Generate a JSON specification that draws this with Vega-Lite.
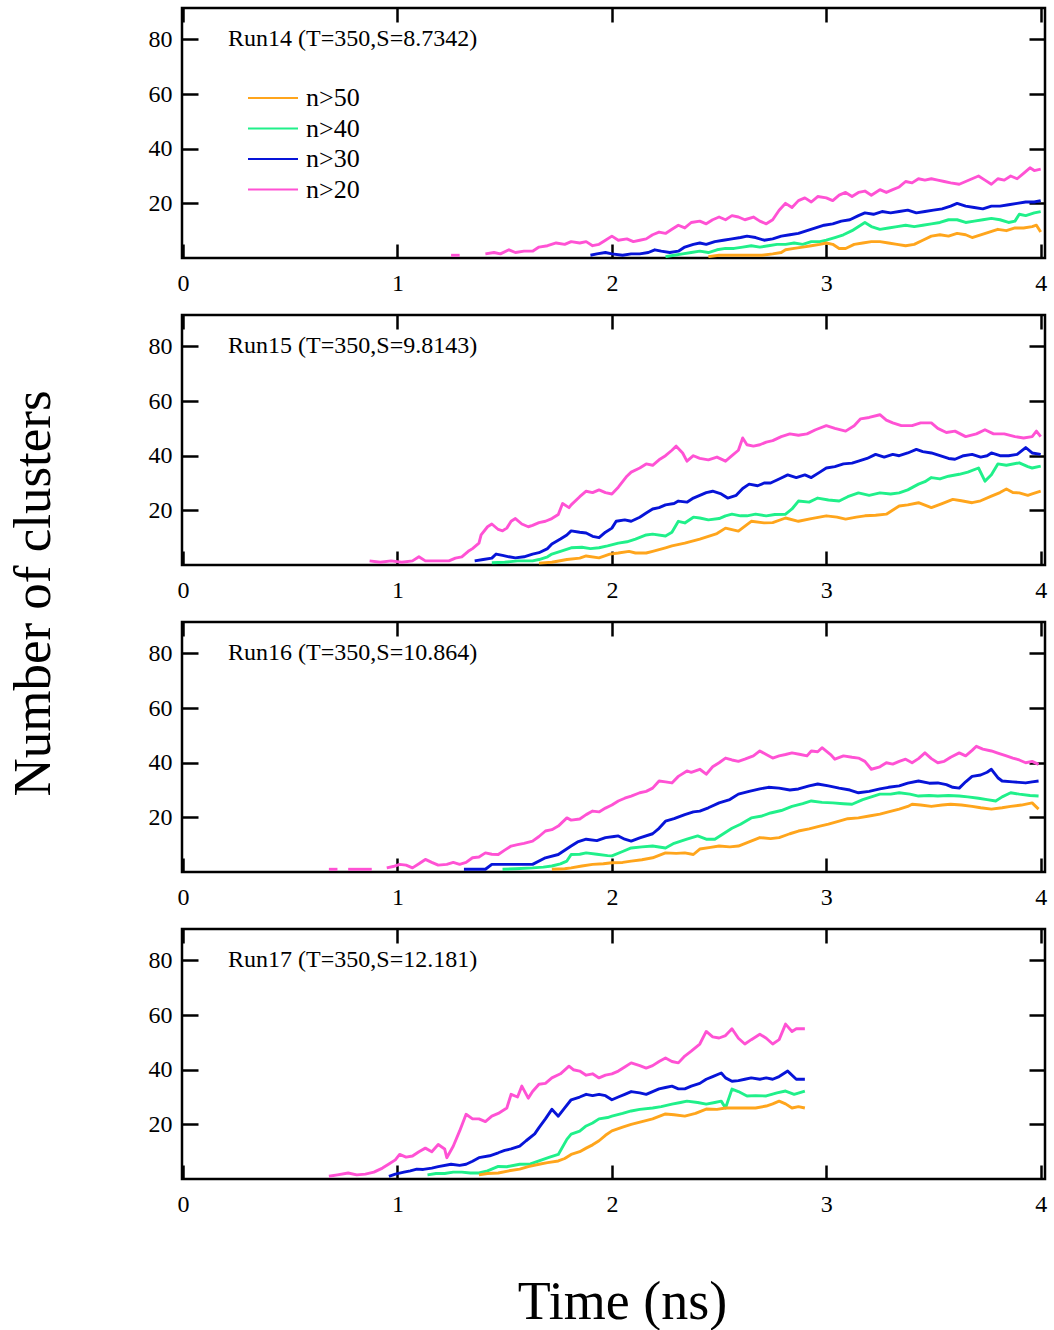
{
"$schema": "https://vega.github.io/schema/vega-lite/v6.json",
"padding": {"left": 5, "top": 5, "right": 4, "bottom": 0},
"autosize": {"type": "pad"},
"bounds": "flush",
"spacing": 57,
"datasets": {
"series": [
{"run":"Run14","n":"n>20","g":"a","t":1.25,"c":1},{"run":"Run14","n":"n>20","g":"a","t":1.29,"c":1},
{"run":"Run14","n":"n>20","t":1.41,"c":1.5},{"run":"Run14","n":"n>20","t":1.45,"c":2},{"run":"Run14","n":"n>20","t":1.48,"c":1.5},{"run":"Run14","n":"n>20","t":1.52,"c":3},{"run":"Run14","n":"n>20","t":1.55,"c":2},{"run":"Run14","n":"n>20","t":1.59,"c":2.5},{"run":"Run14","n":"n>20","t":1.63,"c":2.5},{"run":"Run14","n":"n>20","t":1.66,"c":4},{"run":"Run14","n":"n>20","t":1.70,"c":4.5},{"run":"Run14","n":"n>20","t":1.74,"c":5.5},{"run":"Run14","n":"n>20","t":1.78,"c":5},{"run":"Run14","n":"n>20","t":1.81,"c":6},{"run":"Run14","n":"n>20","t":1.85,"c":5.5},{"run":"Run14","n":"n>20","t":1.88,"c":6},{"run":"Run14","n":"n>20","t":1.91,"c":4.5},{"run":"Run14","n":"n>20","t":1.94,"c":5},{"run":"Run14","n":"n>20","t":1.97,"c":6.5},{"run":"Run14","n":"n>20","t":2.00,"c":8},{"run":"Run14","n":"n>20","t":2.03,"c":6.5},{"run":"Run14","n":"n>20","t":2.07,"c":7},{"run":"Run14","n":"n>20","t":2.10,"c":6},{"run":"Run14","n":"n>20","t":2.13,"c":6.5},{"run":"Run14","n":"n>20","t":2.16,"c":7},{"run":"Run14","n":"n>20","t":2.19,"c":8.5},{"run":"Run14","n":"n>20","t":2.22,"c":9.5},{"run":"Run14","n":"n>20","t":2.25,"c":9},{"run":"Run14","n":"n>20","t":2.28,"c":10.5},{"run":"Run14","n":"n>20","t":2.31,"c":12},{"run":"Run14","n":"n>20","t":2.34,"c":11},{"run":"Run14","n":"n>20","t":2.37,"c":13},{"run":"Run14","n":"n>20","t":2.41,"c":13.5},{"run":"Run14","n":"n>20","t":2.44,"c":12.5},{"run":"Run14","n":"n>20","t":2.47,"c":14},{"run":"Run14","n":"n>20","t":2.50,"c":15},{"run":"Run14","n":"n>20","t":2.53,"c":14},{"run":"Run14","n":"n>20","t":2.56,"c":15.5},{"run":"Run14","n":"n>20","t":2.59,"c":15},{"run":"Run14","n":"n>20","t":2.62,"c":14},{"run":"Run14","n":"n>20","t":2.66,"c":15},{"run":"Run14","n":"n>20","t":2.69,"c":13.5},{"run":"Run14","n":"n>20","t":2.72,"c":12.5},{"run":"Run14","n":"n>20","t":2.75,"c":14},{"run":"Run14","n":"n>20","t":2.78,"c":17.5},{"run":"Run14","n":"n>20","t":2.81,"c":20},{"run":"Run14","n":"n>20","t":2.84,"c":18.5},{"run":"Run14","n":"n>20","t":2.87,"c":21},{"run":"Run14","n":"n>20","t":2.90,"c":22},{"run":"Run14","n":"n>20","t":2.93,"c":20.5},{"run":"Run14","n":"n>20","t":2.96,"c":22.5},{"run":"Run14","n":"n>20","t":3.00,"c":22},{"run":"Run14","n":"n>20","t":3.03,"c":21},{"run":"Run14","n":"n>20","t":3.06,"c":23},{"run":"Run14","n":"n>20","t":3.09,"c":24},{"run":"Run14","n":"n>20","t":3.12,"c":22.5},{"run":"Run14","n":"n>20","t":3.15,"c":24},{"run":"Run14","n":"n>20","t":3.18,"c":24.5},{"run":"Run14","n":"n>20","t":3.21,"c":23},{"run":"Run14","n":"n>20","t":3.25,"c":25},{"run":"Run14","n":"n>20","t":3.28,"c":24},{"run":"Run14","n":"n>20","t":3.31,"c":25},{"run":"Run14","n":"n>20","t":3.34,"c":26},{"run":"Run14","n":"n>20","t":3.37,"c":28},{"run":"Run14","n":"n>20","t":3.40,"c":27.5},{"run":"Run14","n":"n>20","t":3.43,"c":29},{"run":"Run14","n":"n>20","t":3.46,"c":28.5},{"run":"Run14","n":"n>20","t":3.49,"c":29},{"run":"Run14","n":"n>20","t":3.52,"c":28.5},{"run":"Run14","n":"n>20","t":3.55,"c":28},{"run":"Run14","n":"n>20","t":3.58,"c":27.5},{"run":"Run14","n":"n>20","t":3.62,"c":27},{"run":"Run14","n":"n>20","t":3.65,"c":28},{"run":"Run14","n":"n>20","t":3.68,"c":29},{"run":"Run14","n":"n>20","t":3.71,"c":30},{"run":"Run14","n":"n>20","t":3.74,"c":28.5},{"run":"Run14","n":"n>20","t":3.77,"c":27},{"run":"Run14","n":"n>20","t":3.80,"c":29},{"run":"Run14","n":"n>20","t":3.83,"c":28.5},{"run":"Run14","n":"n>20","t":3.86,"c":30},{"run":"Run14","n":"n>20","t":3.89,"c":29},{"run":"Run14","n":"n>20","t":3.92,"c":31},{"run":"Run14","n":"n>20","t":3.95,"c":33},{"run":"Run14","n":"n>20","t":3.97,"c":32},{"run":"Run14","n":"n>20","t":4.00,"c":32.5},
{"run":"Run14","n":"n>30","t":1.90,"c":1},{"run":"Run14","n":"n>30","t":1.93,"c":1.5},{"run":"Run14","n":"n>30","t":1.97,"c":2},{"run":"Run14","n":"n>30","t":2.00,"c":1.5},{"run":"Run14","n":"n>30","t":2.05,"c":1},{"run":"Run14","n":"n>30","t":2.09,"c":1.5},{"run":"Run14","n":"n>30","t":2.13,"c":1.5},{"run":"Run14","n":"n>30","t":2.17,"c":2},{"run":"Run14","n":"n>30","t":2.20,"c":3},{"run":"Run14","n":"n>30","t":2.23,"c":2.5},{"run":"Run14","n":"n>30","t":2.27,"c":2},{"run":"Run14","n":"n>30","t":2.31,"c":2.5},{"run":"Run14","n":"n>30","t":2.34,"c":4},{"run":"Run14","n":"n>30","t":2.38,"c":5},{"run":"Run14","n":"n>30","t":2.41,"c":5.5},{"run":"Run14","n":"n>30","t":2.44,"c":5},{"run":"Run14","n":"n>30","t":2.48,"c":6},{"run":"Run14","n":"n>30","t":2.52,"c":6.5},{"run":"Run14","n":"n>30","t":2.56,"c":7},{"run":"Run14","n":"n>30","t":2.60,"c":7.5},{"run":"Run14","n":"n>30","t":2.63,"c":8},{"run":"Run14","n":"n>30","t":2.67,"c":7.5},{"run":"Run14","n":"n>30","t":2.71,"c":6.5},{"run":"Run14","n":"n>30","t":2.75,"c":7},{"run":"Run14","n":"n>30","t":2.79,"c":8},{"run":"Run14","n":"n>30","t":2.83,"c":8.5},{"run":"Run14","n":"n>30","t":2.87,"c":9},{"run":"Run14","n":"n>30","t":2.91,"c":10},{"run":"Run14","n":"n>30","t":2.95,"c":11},{"run":"Run14","n":"n>30","t":2.99,"c":12},{"run":"Run14","n":"n>30","t":3.03,"c":12.5},{"run":"Run14","n":"n>30","t":3.07,"c":13.5},{"run":"Run14","n":"n>30","t":3.11,"c":14},{"run":"Run14","n":"n>30","t":3.15,"c":15.5},{"run":"Run14","n":"n>30","t":3.18,"c":16.5},{"run":"Run14","n":"n>30","t":3.22,"c":16},{"run":"Run14","n":"n>30","t":3.26,"c":17},{"run":"Run14","n":"n>30","t":3.30,"c":16.5},{"run":"Run14","n":"n>30","t":3.34,"c":17},{"run":"Run14","n":"n>30","t":3.38,"c":17.5},{"run":"Run14","n":"n>30","t":3.42,"c":16.5},{"run":"Run14","n":"n>30","t":3.46,"c":17},{"run":"Run14","n":"n>30","t":3.50,"c":17.5},{"run":"Run14","n":"n>30","t":3.54,"c":18},{"run":"Run14","n":"n>30","t":3.58,"c":19},{"run":"Run14","n":"n>30","t":3.61,"c":20},{"run":"Run14","n":"n>30","t":3.65,"c":19},{"run":"Run14","n":"n>30","t":3.69,"c":18.5},{"run":"Run14","n":"n>30","t":3.73,"c":18},{"run":"Run14","n":"n>30","t":3.77,"c":19},{"run":"Run14","n":"n>30","t":3.81,"c":19},{"run":"Run14","n":"n>30","t":3.85,"c":19.5},{"run":"Run14","n":"n>30","t":3.89,"c":20},{"run":"Run14","n":"n>30","t":3.93,"c":20.5},{"run":"Run14","n":"n>30","t":3.97,"c":20.5},{"run":"Run14","n":"n>30","t":4.00,"c":21},
{"run":"Run14","n":"n>40","t":2.25,"c":0.5},{"run":"Run14","n":"n>40","t":2.29,"c":1},{"run":"Run14","n":"n>40","t":2.33,"c":1.5},{"run":"Run14","n":"n>40","t":2.37,"c":2},{"run":"Run14","n":"n>40","t":2.41,"c":2.5},{"run":"Run14","n":"n>40","t":2.45,"c":2},{"run":"Run14","n":"n>40","t":2.49,"c":3},{"run":"Run14","n":"n>40","t":2.53,"c":3.5},{"run":"Run14","n":"n>40","t":2.57,"c":3.5},{"run":"Run14","n":"n>40","t":2.61,"c":4},{"run":"Run14","n":"n>40","t":2.65,"c":4.5},{"run":"Run14","n":"n>40","t":2.69,"c":4},{"run":"Run14","n":"n>40","t":2.73,"c":4.5},{"run":"Run14","n":"n>40","t":2.77,"c":5},{"run":"Run14","n":"n>40","t":2.81,"c":5},{"run":"Run14","n":"n>40","t":2.85,"c":5.5},{"run":"Run14","n":"n>40","t":2.89,"c":5},{"run":"Run14","n":"n>40","t":2.93,"c":6},{"run":"Run14","n":"n>40","t":2.97,"c":6},{"run":"Run14","n":"n>40","t":3.00,"c":6.5},{"run":"Run14","n":"n>40","t":3.04,"c":7.5},{"run":"Run14","n":"n>40","t":3.08,"c":8.5},{"run":"Run14","n":"n>40","t":3.12,"c":10},{"run":"Run14","n":"n>40","t":3.16,"c":12},{"run":"Run14","n":"n>40","t":3.18,"c":13},{"run":"Run14","n":"n>40","t":3.21,"c":11.5},{"run":"Run14","n":"n>40","t":3.25,"c":10.5},{"run":"Run14","n":"n>40","t":3.29,"c":11},{"run":"Run14","n":"n>40","t":3.33,"c":11.5},{"run":"Run14","n":"n>40","t":3.37,"c":12},{"run":"Run14","n":"n>40","t":3.41,"c":11.5},{"run":"Run14","n":"n>40","t":3.45,"c":12},{"run":"Run14","n":"n>40","t":3.49,"c":12.5},{"run":"Run14","n":"n>40","t":3.53,"c":13},{"run":"Run14","n":"n>40","t":3.57,"c":14},{"run":"Run14","n":"n>40","t":3.61,"c":14},{"run":"Run14","n":"n>40","t":3.65,"c":13},{"run":"Run14","n":"n>40","t":3.69,"c":13.5},{"run":"Run14","n":"n>40","t":3.73,"c":14},{"run":"Run14","n":"n>40","t":3.77,"c":14.5},{"run":"Run14","n":"n>40","t":3.81,"c":14},{"run":"Run14","n":"n>40","t":3.85,"c":13},{"run":"Run14","n":"n>40","t":3.88,"c":13.5},{"run":"Run14","n":"n>40","t":3.90,"c":16},{"run":"Run14","n":"n>40","t":3.93,"c":15.5},{"run":"Run14","n":"n>40","t":3.97,"c":16.5},{"run":"Run14","n":"n>40","t":4.00,"c":17},
{"run":"Run14","n":"n>50","t":2.45,"c":0.5},{"run":"Run14","n":"n>50","t":2.50,"c":1},{"run":"Run14","n":"n>50","t":2.55,"c":1},{"run":"Run14","n":"n>50","t":2.60,"c":1},{"run":"Run14","n":"n>50","t":2.65,"c":1},{"run":"Run14","n":"n>50","t":2.70,"c":1},{"run":"Run14","n":"n>50","t":2.75,"c":1.5},{"run":"Run14","n":"n>50","t":2.79,"c":2},{"run":"Run14","n":"n>50","t":2.81,"c":3},{"run":"Run14","n":"n>50","t":2.85,"c":3.5},{"run":"Run14","n":"n>50","t":2.89,"c":4},{"run":"Run14","n":"n>50","t":2.93,"c":4.5},{"run":"Run14","n":"n>50","t":2.97,"c":5},{"run":"Run14","n":"n>50","t":3.00,"c":5.5},{"run":"Run14","n":"n>50","t":3.03,"c":5},{"run":"Run14","n":"n>50","t":3.06,"c":3.5},{"run":"Run14","n":"n>50","t":3.09,"c":3.5},{"run":"Run14","n":"n>50","t":3.13,"c":5},{"run":"Run14","n":"n>50","t":3.17,"c":5.5},{"run":"Run14","n":"n>50","t":3.21,"c":6},{"run":"Run14","n":"n>50","t":3.25,"c":6},{"run":"Run14","n":"n>50","t":3.29,"c":5.5},{"run":"Run14","n":"n>50","t":3.33,"c":5},{"run":"Run14","n":"n>50","t":3.37,"c":4.5},{"run":"Run14","n":"n>50","t":3.41,"c":5},{"run":"Run14","n":"n>50","t":3.45,"c":6.5},{"run":"Run14","n":"n>50","t":3.49,"c":8},{"run":"Run14","n":"n>50","t":3.53,"c":8.5},{"run":"Run14","n":"n>50","t":3.57,"c":8},{"run":"Run14","n":"n>50","t":3.61,"c":9},{"run":"Run14","n":"n>50","t":3.65,"c":8.5},{"run":"Run14","n":"n>50","t":3.68,"c":7.5},{"run":"Run14","n":"n>50","t":3.72,"c":8.5},{"run":"Run14","n":"n>50","t":3.76,"c":9.5},{"run":"Run14","n":"n>50","t":3.80,"c":10.5},{"run":"Run14","n":"n>50","t":3.84,"c":10},{"run":"Run14","n":"n>50","t":3.88,"c":11},{"run":"Run14","n":"n>50","t":3.92,"c":11},{"run":"Run14","n":"n>50","t":3.96,"c":11.5},{"run":"Run14","n":"n>50","t":3.98,"c":12},{"run":"Run14","n":"n>50","t":4.00,"c":9.5},

{"run":"Run15","n":"n>20","t":0.87,"c":1.5},{"run":"Run15","n":"n>20","t":0.92,"c":1},{"run":"Run15","n":"n>20","t":0.97,"c":1.5},{"run":"Run15","n":"n>20","t":1.02,"c":1},{"run":"Run15","n":"n>20","t":1.07,"c":1.5},{"run":"Run15","n":"n>20","t":1.10,"c":3},{"run":"Run15","n":"n>20","t":1.13,"c":1.5},{"run":"Run15","n":"n>20","t":1.17,"c":1.5},{"run":"Run15","n":"n>20","t":1.21,"c":1.5},{"run":"Run15","n":"n>20","t":1.24,"c":1.5},{"run":"Run15","n":"n>20","t":1.27,"c":2.5},{"run":"Run15","n":"n>20","t":1.30,"c":3},{"run":"Run15","n":"n>20","t":1.33,"c":5},{"run":"Run15","n":"n>20","t":1.35,"c":6},{"run":"Run15","n":"n>20","t":1.38,"c":8},{"run":"Run15","n":"n>20","t":1.39,"c":11},{"run":"Run15","n":"n>20","t":1.42,"c":14},{"run":"Run15","n":"n>20","t":1.44,"c":15},{"run":"Run15","n":"n>20","t":1.47,"c":13},{"run":"Run15","n":"n>20","t":1.49,"c":12.5},{"run":"Run15","n":"n>20","t":1.51,"c":13.5},{"run":"Run15","n":"n>20","t":1.53,"c":16},{"run":"Run15","n":"n>20","t":1.55,"c":17},{"run":"Run15","n":"n>20","t":1.58,"c":15},{"run":"Run15","n":"n>20","t":1.61,"c":14},{"run":"Run15","n":"n>20","t":1.63,"c":14.5},{"run":"Run15","n":"n>20","t":1.66,"c":15.5},{"run":"Run15","n":"n>20","t":1.69,"c":16},{"run":"Run15","n":"n>20","t":1.72,"c":17},{"run":"Run15","n":"n>20","t":1.75,"c":18.5},{"run":"Run15","n":"n>20","t":1.77,"c":22.5},{"run":"Run15","n":"n>20","t":1.80,"c":21},{"run":"Run15","n":"n>20","t":1.81,"c":22},{"run":"Run15","n":"n>20","t":1.85,"c":25},{"run":"Run15","n":"n>20","t":1.88,"c":27},{"run":"Run15","n":"n>20","t":1.91,"c":26.5},{"run":"Run15","n":"n>20","t":1.94,"c":27.5},{"run":"Run15","n":"n>20","t":1.97,"c":26.5},{"run":"Run15","n":"n>20","t":2.00,"c":26},{"run":"Run15","n":"n>20","t":2.03,"c":28.5},{"run":"Run15","n":"n>20","t":2.07,"c":32.5},{"run":"Run15","n":"n>20","t":2.09,"c":34},{"run":"Run15","n":"n>20","t":2.13,"c":35.5},{"run":"Run15","n":"n>20","t":2.16,"c":37},{"run":"Run15","n":"n>20","t":2.19,"c":36.5},{"run":"Run15","n":"n>20","t":2.22,"c":38.5},{"run":"Run15","n":"n>20","t":2.25,"c":40},{"run":"Run15","n":"n>20","t":2.28,"c":42},{"run":"Run15","n":"n>20","t":2.30,"c":43.5},{"run":"Run15","n":"n>20","t":2.33,"c":41},{"run":"Run15","n":"n>20","t":2.35,"c":38},{"run":"Run15","n":"n>20","t":2.38,"c":40},{"run":"Run15","n":"n>20","t":2.41,"c":39},{"run":"Run15","n":"n>20","t":2.45,"c":38.5},{"run":"Run15","n":"n>20","t":2.49,"c":39.5},{"run":"Run15","n":"n>20","t":2.53,"c":38},{"run":"Run15","n":"n>20","t":2.56,"c":40},{"run":"Run15","n":"n>20","t":2.59,"c":42},{"run":"Run15","n":"n>20","t":2.61,"c":46.5},{"run":"Run15","n":"n>20","t":2.63,"c":44},{"run":"Run15","n":"n>20","t":2.66,"c":43.5},{"run":"Run15","n":"n>20","t":2.69,"c":44},{"run":"Run15","n":"n>20","t":2.72,"c":45},{"run":"Run15","n":"n>20","t":2.75,"c":45.5},{"run":"Run15","n":"n>20","t":2.79,"c":47},{"run":"Run15","n":"n>20","t":2.83,"c":48},{"run":"Run15","n":"n>20","t":2.87,"c":47.5},{"run":"Run15","n":"n>20","t":2.91,"c":48},{"run":"Run15","n":"n>20","t":2.95,"c":49.5},{"run":"Run15","n":"n>20","t":3.00,"c":51},{"run":"Run15","n":"n>20","t":3.04,"c":50},{"run":"Run15","n":"n>20","t":3.09,"c":49},{"run":"Run15","n":"n>20","t":3.13,"c":51},{"run":"Run15","n":"n>20","t":3.16,"c":53.5},{"run":"Run15","n":"n>20","t":3.20,"c":54},{"run":"Run15","n":"n>20","t":3.25,"c":55},{"run":"Run15","n":"n>20","t":3.28,"c":53},{"run":"Run15","n":"n>20","t":3.31,"c":52},{"run":"Run15","n":"n>20","t":3.35,"c":51},{"run":"Run15","n":"n>20","t":3.40,"c":51},{"run":"Run15","n":"n>20","t":3.44,"c":52},{"run":"Run15","n":"n>20","t":3.49,"c":52},{"run":"Run15","n":"n>20","t":3.52,"c":50},{"run":"Run15","n":"n>20","t":3.56,"c":48.5},{"run":"Run15","n":"n>20","t":3.60,"c":49},{"run":"Run15","n":"n>20","t":3.65,"c":47},{"run":"Run15","n":"n>20","t":3.70,"c":48},{"run":"Run15","n":"n>20","t":3.74,"c":49.5},{"run":"Run15","n":"n>20","t":3.78,"c":48},{"run":"Run15","n":"n>20","t":3.83,"c":48},{"run":"Run15","n":"n>20","t":3.88,"c":47},{"run":"Run15","n":"n>20","t":3.92,"c":46.5},{"run":"Run15","n":"n>20","t":3.96,"c":47},{"run":"Run15","n":"n>20","t":3.98,"c":49},{"run":"Run15","n":"n>20","t":4.00,"c":47},
{"run":"Run15","n":"n>30","t":1.36,"c":1.5},{"run":"Run15","n":"n>30","t":1.40,"c":2},{"run":"Run15","n":"n>30","t":1.44,"c":2.5},{"run":"Run15","n":"n>30","t":1.46,"c":4},{"run":"Run15","n":"n>30","t":1.49,"c":3.5},{"run":"Run15","n":"n>30","t":1.52,"c":3},{"run":"Run15","n":"n>30","t":1.55,"c":2.6},{"run":"Run15","n":"n>30","t":1.59,"c":3},{"run":"Run15","n":"n>30","t":1.63,"c":4},{"run":"Run15","n":"n>30","t":1.66,"c":4.5},{"run":"Run15","n":"n>30","t":1.70,"c":6},{"run":"Run15","n":"n>30","t":1.72,"c":7.7},{"run":"Run15","n":"n>30","t":1.76,"c":9.5},{"run":"Run15","n":"n>30","t":1.79,"c":11},{"run":"Run15","n":"n>30","t":1.81,"c":12.5},{"run":"Run15","n":"n>30","t":1.85,"c":12},{"run":"Run15","n":"n>30","t":1.88,"c":11.7},{"run":"Run15","n":"n>30","t":1.91,"c":10.5},{"run":"Run15","n":"n>30","t":1.94,"c":10},{"run":"Run15","n":"n>30","t":1.97,"c":12},{"run":"Run15","n":"n>30","t":2.00,"c":13.5},{"run":"Run15","n":"n>30","t":2.02,"c":16},{"run":"Run15","n":"n>30","t":2.06,"c":16.5},{"run":"Run15","n":"n>30","t":2.09,"c":16},{"run":"Run15","n":"n>30","t":2.13,"c":17.5},{"run":"Run15","n":"n>30","t":2.16,"c":19},{"run":"Run15","n":"n>30","t":2.19,"c":20.5},{"run":"Run15","n":"n>30","t":2.22,"c":21},{"run":"Run15","n":"n>30","t":2.25,"c":22},{"run":"Run15","n":"n>30","t":2.29,"c":22.5},{"run":"Run15","n":"n>30","t":2.31,"c":23.4},{"run":"Run15","n":"n>30","t":2.35,"c":23},{"run":"Run15","n":"n>30","t":2.38,"c":24.5},{"run":"Run15","n":"n>30","t":2.41,"c":25.5},{"run":"Run15","n":"n>30","t":2.44,"c":26.5},{"run":"Run15","n":"n>30","t":2.47,"c":27},{"run":"Run15","n":"n>30","t":2.51,"c":26},{"run":"Run15","n":"n>30","t":2.54,"c":24.5},{"run":"Run15","n":"n>30","t":2.58,"c":25.5},{"run":"Run15","n":"n>30","t":2.61,"c":28},{"run":"Run15","n":"n>30","t":2.64,"c":29.6},{"run":"Run15","n":"n>30","t":2.68,"c":29},{"run":"Run15","n":"n>30","t":2.71,"c":30},{"run":"Run15","n":"n>30","t":2.74,"c":30},{"run":"Run15","n":"n>30","t":2.78,"c":31.5},{"run":"Run15","n":"n>30","t":2.82,"c":33},{"run":"Run15","n":"n>30","t":2.86,"c":32},{"run":"Run15","n":"n>30","t":2.90,"c":33},{"run":"Run15","n":"n>30","t":2.93,"c":32},{"run":"Run15","n":"n>30","t":2.97,"c":34},{"run":"Run15","n":"n>30","t":3.00,"c":35.5},{"run":"Run15","n":"n>30","t":3.04,"c":36},{"run":"Run15","n":"n>30","t":3.08,"c":37},{"run":"Run15","n":"n>30","t":3.12,"c":37.3},{"run":"Run15","n":"n>30","t":3.15,"c":38},{"run":"Run15","n":"n>30","t":3.19,"c":39},{"run":"Run15","n":"n>30","t":3.23,"c":40.5},{"run":"Run15","n":"n>30","t":3.27,"c":39.5},{"run":"Run15","n":"n>30","t":3.31,"c":40.5},{"run":"Run15","n":"n>30","t":3.34,"c":40},{"run":"Run15","n":"n>30","t":3.38,"c":41},{"run":"Run15","n":"n>30","t":3.42,"c":42.3},{"run":"Run15","n":"n>30","t":3.45,"c":41.5},{"run":"Run15","n":"n>30","t":3.49,"c":41},{"run":"Run15","n":"n>30","t":3.53,"c":40},{"run":"Run15","n":"n>30","t":3.57,"c":39},{"run":"Run15","n":"n>30","t":3.60,"c":38.7},{"run":"Run15","n":"n>30","t":3.64,"c":40},{"run":"Run15","n":"n>30","t":3.68,"c":40.5},{"run":"Run15","n":"n>30","t":3.72,"c":39.5},{"run":"Run15","n":"n>30","t":3.75,"c":40},{"run":"Run15","n":"n>30","t":3.77,"c":41},{"run":"Run15","n":"n>30","t":3.81,"c":40},{"run":"Run15","n":"n>30","t":3.85,"c":40},{"run":"Run15","n":"n>30","t":3.89,"c":40.5},{"run":"Run15","n":"n>30","t":3.93,"c":43},{"run":"Run15","n":"n>30","t":3.96,"c":41},{"run":"Run15","n":"n>30","t":4.00,"c":40.5},
{"run":"Run15","n":"n>40","t":1.44,"c":0.8},{"run":"Run15","n":"n>40","t":1.50,"c":1},{"run":"Run15","n":"n>40","t":1.56,"c":1.5},{"run":"Run15","n":"n>40","t":1.63,"c":1.5},{"run":"Run15","n":"n>40","t":1.66,"c":2},{"run":"Run15","n":"n>40","t":1.70,"c":3},{"run":"Run15","n":"n>40","t":1.72,"c":4},{"run":"Run15","n":"n>40","t":1.76,"c":5},{"run":"Run15","n":"n>40","t":1.81,"c":6.3},{"run":"Run15","n":"n>40","t":1.86,"c":6.5},{"run":"Run15","n":"n>40","t":1.90,"c":6},{"run":"Run15","n":"n>40","t":1.94,"c":6.3},{"run":"Run15","n":"n>40","t":1.98,"c":7},{"run":"Run15","n":"n>40","t":2.03,"c":8},{"run":"Run15","n":"n>40","t":2.07,"c":8.5},{"run":"Run15","n":"n>40","t":2.11,"c":9.5},{"run":"Run15","n":"n>40","t":2.16,"c":11},{"run":"Run15","n":"n>40","t":2.19,"c":11.3},{"run":"Run15","n":"n>40","t":2.25,"c":10.6},{"run":"Run15","n":"n>40","t":2.28,"c":12},{"run":"Run15","n":"n>40","t":2.31,"c":16},{"run":"Run15","n":"n>40","t":2.34,"c":15.4},{"run":"Run15","n":"n>40","t":2.38,"c":17.5},{"run":"Run15","n":"n>40","t":2.41,"c":17.2},{"run":"Run15","n":"n>40","t":2.45,"c":16.5},{"run":"Run15","n":"n>40","t":2.50,"c":17},{"run":"Run15","n":"n>40","t":2.53,"c":18},{"run":"Run15","n":"n>40","t":2.56,"c":18.6},{"run":"Run15","n":"n>40","t":2.60,"c":18},{"run":"Run15","n":"n>40","t":2.63,"c":18},{"run":"Run15","n":"n>40","t":2.67,"c":18.6},{"run":"Run15","n":"n>40","t":2.72,"c":18},{"run":"Run15","n":"n>40","t":2.76,"c":18.5},{"run":"Run15","n":"n>40","t":2.81,"c":18.6},{"run":"Run15","n":"n>40","t":2.84,"c":20.5},{"run":"Run15","n":"n>40","t":2.87,"c":23.4},{"run":"Run15","n":"n>40","t":2.92,"c":23},{"run":"Run15","n":"n>40","t":2.96,"c":24.5},{"run":"Run15","n":"n>40","t":3.01,"c":23.8},{"run":"Run15","n":"n>40","t":3.06,"c":23.4},{"run":"Run15","n":"n>40","t":3.10,"c":25},{"run":"Run15","n":"n>40","t":3.15,"c":26.4},{"run":"Run15","n":"n>40","t":3.20,"c":25.5},{"run":"Run15","n":"n>40","t":3.25,"c":26.4},{"run":"Run15","n":"n>40","t":3.30,"c":26},{"run":"Run15","n":"n>40","t":3.34,"c":26.4},{"run":"Run15","n":"n>40","t":3.38,"c":27.5},{"run":"Run15","n":"n>40","t":3.43,"c":29.6},{"run":"Run15","n":"n>40","t":3.46,"c":30.5},{"run":"Run15","n":"n>40","t":3.49,"c":32},{"run":"Run15","n":"n>40","t":3.53,"c":31.5},{"run":"Run15","n":"n>40","t":3.57,"c":32.5},{"run":"Run15","n":"n>40","t":3.62,"c":33.2},{"run":"Run15","n":"n>40","t":3.66,"c":34},{"run":"Run15","n":"n>40","t":3.71,"c":35.5},{"run":"Run15","n":"n>40","t":3.74,"c":30.7},{"run":"Run15","n":"n>40","t":3.77,"c":33},{"run":"Run15","n":"n>40","t":3.80,"c":37},{"run":"Run15","n":"n>40","t":3.84,"c":36.5},{"run":"Run15","n":"n>40","t":3.90,"c":37.4},{"run":"Run15","n":"n>40","t":3.94,"c":36},{"run":"Run15","n":"n>40","t":3.96,"c":35.5},{"run":"Run15","n":"n>40","t":4.00,"c":36.2},
{"run":"Run15","n":"n>50","t":1.66,"c":0.7},{"run":"Run15","n":"n>50","t":1.72,"c":1},{"run":"Run15","n":"n>50","t":1.79,"c":2},{"run":"Run15","n":"n>50","t":1.85,"c":2.5},{"run":"Run15","n":"n>50","t":1.88,"c":3.3},{"run":"Run15","n":"n>50","t":1.94,"c":2.6},{"run":"Run15","n":"n>50","t":1.99,"c":4},{"run":"Run15","n":"n>50","t":2.03,"c":4.4},{"run":"Run15","n":"n>50","t":2.08,"c":5},{"run":"Run15","n":"n>50","t":2.11,"c":4.4},{"run":"Run15","n":"n>50","t":2.16,"c":4.4},{"run":"Run15","n":"n>50","t":2.19,"c":5},{"run":"Run15","n":"n>50","t":2.25,"c":6.3},{"run":"Run15","n":"n>50","t":2.28,"c":7},{"run":"Run15","n":"n>50","t":2.34,"c":8},{"run":"Run15","n":"n>50","t":2.41,"c":9.5},{"run":"Run15","n":"n>50","t":2.45,"c":10.5},{"run":"Run15","n":"n>50","t":2.49,"c":11.5},{"run":"Run15","n":"n>50","t":2.53,"c":13.5},{"run":"Run15","n":"n>50","t":2.59,"c":12.4},{"run":"Run15","n":"n>50","t":2.65,"c":16},{"run":"Run15","n":"n>50","t":2.71,"c":15.4},{"run":"Run15","n":"n>50","t":2.75,"c":15.5},{"run":"Run15","n":"n>50","t":2.81,"c":17.2},{"run":"Run15","n":"n>50","t":2.87,"c":16},{"run":"Run15","n":"n>50","t":2.93,"c":17},{"run":"Run15","n":"n>50","t":3.00,"c":18},{"run":"Run15","n":"n>50","t":3.05,"c":17.5},{"run":"Run15","n":"n>50","t":3.09,"c":16.8},{"run":"Run15","n":"n>50","t":3.14,"c":17.5},{"run":"Run15","n":"n>50","t":3.18,"c":18},{"run":"Run15","n":"n>50","t":3.23,"c":18.2},{"run":"Run15","n":"n>50","t":3.28,"c":18.6},{"run":"Run15","n":"n>50","t":3.34,"c":21.6},{"run":"Run15","n":"n>50","t":3.38,"c":22},{"run":"Run15","n":"n>50","t":3.43,"c":22.8},{"run":"Run15","n":"n>50","t":3.49,"c":21},{"run":"Run15","n":"n>50","t":3.54,"c":22.5},{"run":"Run15","n":"n>50","t":3.59,"c":24},{"run":"Run15","n":"n>50","t":3.63,"c":23.5},{"run":"Run15","n":"n>50","t":3.68,"c":22.8},{"run":"Run15","n":"n>50","t":3.72,"c":23.5},{"run":"Run15","n":"n>50","t":3.77,"c":25.2},{"run":"Run15","n":"n>50","t":3.81,"c":26.5},{"run":"Run15","n":"n>50","t":3.84,"c":27.8},{"run":"Run15","n":"n>50","t":3.87,"c":26.5},{"run":"Run15","n":"n>50","t":3.90,"c":26.4},{"run":"Run15","n":"n>50","t":3.94,"c":25.5},{"run":"Run15","n":"n>50","t":3.96,"c":26},{"run":"Run15","n":"n>50","t":4.00,"c":27},

{"run":"Run16","n":"n>20","g":"a","t":0.68,"c":1},{"run":"Run16","n":"n>20","g":"a","t":0.72,"c":1},{"run":"Run16","n":"n>20","g":"b","t":0.77,"c":1},{"run":"Run16","n":"n>20","g":"b","t":0.88,"c":1},
{"run":"Run16","n":"n>20","t":0.95,"c":1.5},{"run":"Run16","n":"n>20","t":0.98,"c":2},{"run":"Run16","n":"n>20","t":1.01,"c":2.8},{"run":"Run16","n":"n>20","t":1.04,"c":2.5},{"run":"Run16","n":"n>20","t":1.07,"c":1.5},{"run":"Run16","n":"n>20","t":1.10,"c":3},{"run":"Run16","n":"n>20","t":1.13,"c":4.6},{"run":"Run16","n":"n>20","t":1.16,"c":3.5},{"run":"Run16","n":"n>20","t":1.19,"c":2.5},{"run":"Run16","n":"n>20","t":1.23,"c":2.8},{"run":"Run16","n":"n>20","t":1.26,"c":3.5},{"run":"Run16","n":"n>20","t":1.29,"c":2.8},{"run":"Run16","n":"n>20","t":1.32,"c":3.5},{"run":"Run16","n":"n>20","t":1.35,"c":5.2},{"run":"Run16","n":"n>20","t":1.38,"c":5.5},{"run":"Run16","n":"n>20","t":1.41,"c":7},{"run":"Run16","n":"n>20","t":1.44,"c":6.5},{"run":"Run16","n":"n>20","t":1.47,"c":6.4},{"run":"Run16","n":"n>20","t":1.50,"c":8},{"run":"Run16","n":"n>20","t":1.53,"c":9.5},{"run":"Run16","n":"n>20","t":1.56,"c":10},{"run":"Run16","n":"n>20","t":1.59,"c":10.5},{"run":"Run16","n":"n>20","t":1.63,"c":11.3},{"run":"Run16","n":"n>20","t":1.66,"c":13},{"run":"Run16","n":"n>20","t":1.69,"c":15},{"run":"Run16","n":"n>20","t":1.72,"c":15.5},{"run":"Run16","n":"n>20","t":1.75,"c":16.8},{"run":"Run16","n":"n>20","t":1.79,"c":19.8},{"run":"Run16","n":"n>20","t":1.81,"c":19},{"run":"Run16","n":"n>20","t":1.85,"c":19.4},{"run":"Run16","n":"n>20","t":1.88,"c":21},{"run":"Run16","n":"n>20","t":1.91,"c":22.3},{"run":"Run16","n":"n>20","t":1.94,"c":22},{"run":"Run16","n":"n>20","t":1.97,"c":23.4},{"run":"Run16","n":"n>20","t":2.00,"c":24.5},{"run":"Run16","n":"n>20","t":2.03,"c":26},{"run":"Run16","n":"n>20","t":2.06,"c":27},{"run":"Run16","n":"n>20","t":2.09,"c":27.8},{"run":"Run16","n":"n>20","t":2.13,"c":29},{"run":"Run16","n":"n>20","t":2.16,"c":29.5},{"run":"Run16","n":"n>20","t":2.19,"c":30.7},{"run":"Run16","n":"n>20","t":2.22,"c":33.3},{"run":"Run16","n":"n>20","t":2.25,"c":33},{"run":"Run16","n":"n>20","t":2.28,"c":32.6},{"run":"Run16","n":"n>20","t":2.31,"c":35},{"run":"Run16","n":"n>20","t":2.35,"c":37},{"run":"Run16","n":"n>20","t":2.37,"c":36.5},{"run":"Run16","n":"n>20","t":2.41,"c":37.6},{"run":"Run16","n":"n>20","t":2.44,"c":35.8},{"run":"Run16","n":"n>20","t":2.47,"c":38.5},{"run":"Run16","n":"n>20","t":2.50,"c":40},{"run":"Run16","n":"n>20","t":2.53,"c":41.7},{"run":"Run16","n":"n>20","t":2.56,"c":41},{"run":"Run16","n":"n>20","t":2.59,"c":40.5},{"run":"Run16","n":"n>20","t":2.62,"c":41.3},{"run":"Run16","n":"n>20","t":2.66,"c":42.5},{"run":"Run16","n":"n>20","t":2.69,"c":44.3},{"run":"Run16","n":"n>20","t":2.72,"c":43},{"run":"Run16","n":"n>20","t":2.75,"c":41.7},{"run":"Run16","n":"n>20","t":2.78,"c":42.5},{"run":"Run16","n":"n>20","t":2.81,"c":43},{"run":"Run16","n":"n>20","t":2.84,"c":43.6},{"run":"Run16","n":"n>20","t":2.88,"c":43},{"run":"Run16","n":"n>20","t":2.91,"c":42.5},{"run":"Run16","n":"n>20","t":2.93,"c":44.3},{"run":"Run16","n":"n>20","t":2.96,"c":44},{"run":"Run16","n":"n>20","t":2.98,"c":45.5},{"run":"Run16","n":"n>20","t":3.02,"c":43},{"run":"Run16","n":"n>20","t":3.04,"c":41.3},{"run":"Run16","n":"n>20","t":3.08,"c":42.5},{"run":"Run16","n":"n>20","t":3.12,"c":42},{"run":"Run16","n":"n>20","t":3.15,"c":41.7},{"run":"Run16","n":"n>20","t":3.18,"c":40.5},{"run":"Run16","n":"n>20","t":3.21,"c":37.6},{"run":"Run16","n":"n>20","t":3.25,"c":38.5},{"run":"Run16","n":"n>20","t":3.28,"c":40},{"run":"Run16","n":"n>20","t":3.31,"c":39.5},{"run":"Run16","n":"n>20","t":3.34,"c":40.5},{"run":"Run16","n":"n>20","t":3.37,"c":41.3},{"run":"Run16","n":"n>20","t":3.40,"c":40},{"run":"Run16","n":"n>20","t":3.43,"c":41.5},{"run":"Run16","n":"n>20","t":3.46,"c":43.6},{"run":"Run16","n":"n>20","t":3.49,"c":41.5},{"run":"Run16","n":"n>20","t":3.52,"c":40},{"run":"Run16","n":"n>20","t":3.55,"c":40.5},{"run":"Run16","n":"n>20","t":3.58,"c":42},{"run":"Run16","n":"n>20","t":3.62,"c":43.6},{"run":"Run16","n":"n>20","t":3.65,"c":42.5},{"run":"Run16","n":"n>20","t":3.68,"c":44.5},{"run":"Run16","n":"n>20","t":3.70,"c":46},{"run":"Run16","n":"n>20","t":3.73,"c":45},{"run":"Run16","n":"n>20","t":3.77,"c":44.3},{"run":"Run16","n":"n>20","t":3.80,"c":43.5},{"run":"Run16","n":"n>20","t":3.84,"c":42.5},{"run":"Run16","n":"n>20","t":3.87,"c":41.7},{"run":"Run16","n":"n>20","t":3.90,"c":41},{"run":"Run16","n":"n>20","t":3.93,"c":40},{"run":"Run16","n":"n>20","t":3.96,"c":40.5},{"run":"Run16","n":"n>20","t":3.99,"c":39.4},
{"run":"Run16","n":"n>30","t":1.31,"c":1},{"run":"Run16","n":"n>30","t":1.36,"c":1},{"run":"Run16","n":"n>30","t":1.41,"c":1},{"run":"Run16","n":"n>30","t":1.44,"c":2.8},{"run":"Run16","n":"n>30","t":1.50,"c":2.8},{"run":"Run16","n":"n>30","t":1.55,"c":2.8},{"run":"Run16","n":"n>30","t":1.60,"c":2.8},{"run":"Run16","n":"n>30","t":1.63,"c":2.8},{"run":"Run16","n":"n>30","t":1.69,"c":5.2},{"run":"Run16","n":"n>30","t":1.75,"c":6.4},{"run":"Run16","n":"n>30","t":1.81,"c":9.5},{"run":"Run16","n":"n>30","t":1.84,"c":11},{"run":"Run16","n":"n>30","t":1.88,"c":12},{"run":"Run16","n":"n>30","t":1.93,"c":11.5},{"run":"Run16","n":"n>30","t":1.97,"c":12.6},{"run":"Run16","n":"n>30","t":2.01,"c":13},{"run":"Run16","n":"n>30","t":2.03,"c":13.2},{"run":"Run16","n":"n>30","t":2.06,"c":12},{"run":"Run16","n":"n>30","t":2.09,"c":11.3},{"run":"Run16","n":"n>30","t":2.13,"c":12.5},{"run":"Run16","n":"n>30","t":2.19,"c":14},{"run":"Run16","n":"n>30","t":2.22,"c":16},{"run":"Run16","n":"n>30","t":2.25,"c":18.6},{"run":"Run16","n":"n>30","t":2.29,"c":19.5},{"run":"Run16","n":"n>30","t":2.34,"c":21},{"run":"Run16","n":"n>30","t":2.38,"c":22},{"run":"Run16","n":"n>30","t":2.41,"c":22.3},{"run":"Run16","n":"n>30","t":2.45,"c":23.5},{"run":"Run16","n":"n>30","t":2.50,"c":25.3},{"run":"Run16","n":"n>30","t":2.55,"c":26.5},{"run":"Run16","n":"n>30","t":2.59,"c":28.5},{"run":"Run16","n":"n>30","t":2.64,"c":29.5},{"run":"Run16","n":"n>30","t":2.69,"c":30.4},{"run":"Run16","n":"n>30","t":2.73,"c":31},{"run":"Run16","n":"n>30","t":2.78,"c":30.7},{"run":"Run16","n":"n>30","t":2.83,"c":30},{"run":"Run16","n":"n>30","t":2.87,"c":30.4},{"run":"Run16","n":"n>30","t":2.92,"c":31.5},{"run":"Run16","n":"n>30","t":2.96,"c":32.2},{"run":"Run16","n":"n>30","t":3.01,"c":31.5},{"run":"Run16","n":"n>30","t":3.06,"c":30.7},{"run":"Run16","n":"n>30","t":3.11,"c":30},{"run":"Run16","n":"n>30","t":3.15,"c":29},{"run":"Run16","n":"n>30","t":3.20,"c":29.5},{"run":"Run16","n":"n>30","t":3.25,"c":30.4},{"run":"Run16","n":"n>30","t":3.29,"c":31},{"run":"Run16","n":"n>30","t":3.34,"c":31.5},{"run":"Run16","n":"n>30","t":3.38,"c":32.5},{"run":"Run16","n":"n>30","t":3.43,"c":33.3},{"run":"Run16","n":"n>30","t":3.48,"c":32.5},{"run":"Run16","n":"n>30","t":3.52,"c":32.6},{"run":"Run16","n":"n>30","t":3.56,"c":32},{"run":"Run16","n":"n>30","t":3.59,"c":31},{"run":"Run16","n":"n>30","t":3.62,"c":30.7},{"run":"Run16","n":"n>30","t":3.65,"c":33},{"run":"Run16","n":"n>30","t":3.68,"c":35},{"run":"Run16","n":"n>30","t":3.72,"c":35.5},{"run":"Run16","n":"n>30","t":3.75,"c":36.5},{"run":"Run16","n":"n>30","t":3.77,"c":37.6},{"run":"Run16","n":"n>30","t":3.80,"c":34.5},{"run":"Run16","n":"n>30","t":3.82,"c":33.3},{"run":"Run16","n":"n>30","t":3.87,"c":33},{"run":"Run16","n":"n>30","t":3.93,"c":32.6},{"run":"Run16","n":"n>30","t":3.96,"c":33},{"run":"Run16","n":"n>30","t":3.99,"c":33.3},
{"run":"Run16","n":"n>40","t":1.49,"c":1},{"run":"Run16","n":"n>40","t":1.55,"c":1.2},{"run":"Run16","n":"n>40","t":1.63,"c":1.5},{"run":"Run16","n":"n>40","t":1.68,"c":1.8},{"run":"Run16","n":"n>40","t":1.72,"c":2.2},{"run":"Run16","n":"n>40","t":1.76,"c":3},{"run":"Run16","n":"n>40","t":1.79,"c":4},{"run":"Run16","n":"n>40","t":1.81,"c":6.4},{"run":"Run16","n":"n>40","t":1.85,"c":6.5},{"run":"Run16","n":"n>40","t":1.88,"c":7},{"run":"Run16","n":"n>40","t":1.93,"c":6.5},{"run":"Run16","n":"n>40","t":1.98,"c":6},{"run":"Run16","n":"n>40","t":2.00,"c":5.9},{"run":"Run16","n":"n>40","t":2.05,"c":7.5},{"run":"Run16","n":"n>40","t":2.09,"c":8.8},{"run":"Run16","n":"n>40","t":2.14,"c":9.2},{"run":"Run16","n":"n>40","t":2.19,"c":9.5},{"run":"Run16","n":"n>40","t":2.25,"c":8.8},{"run":"Run16","n":"n>40","t":2.29,"c":10.5},{"run":"Run16","n":"n>40","t":2.35,"c":12},{"run":"Run16","n":"n>40","t":2.40,"c":13.2},{"run":"Run16","n":"n>40","t":2.44,"c":12},{"run":"Run16","n":"n>40","t":2.48,"c":12},{"run":"Run16","n":"n>40","t":2.52,"c":14},{"run":"Run16","n":"n>40","t":2.56,"c":16},{"run":"Run16","n":"n>40","t":2.60,"c":17.5},{"run":"Run16","n":"n>40","t":2.65,"c":19.8},{"run":"Run16","n":"n>40","t":2.70,"c":20.5},{"run":"Run16","n":"n>40","t":2.74,"c":21.6},{"run":"Run16","n":"n>40","t":2.79,"c":22.5},{"run":"Run16","n":"n>40","t":2.84,"c":24},{"run":"Run16","n":"n>40","t":2.89,"c":25},{"run":"Run16","n":"n>40","t":2.93,"c":26},{"run":"Run16","n":"n>40","t":2.98,"c":25.5},{"run":"Run16","n":"n>40","t":3.03,"c":25.3},{"run":"Run16","n":"n>40","t":3.08,"c":25},{"run":"Run16","n":"n>40","t":3.12,"c":24.8},{"run":"Run16","n":"n>40","t":3.17,"c":26.5},{"run":"Run16","n":"n>40","t":3.21,"c":27.5},{"run":"Run16","n":"n>40","t":3.25,"c":28.5},{"run":"Run16","n":"n>40","t":3.30,"c":28.5},{"run":"Run16","n":"n>40","t":3.34,"c":29},{"run":"Run16","n":"n>40","t":3.39,"c":28.5},{"run":"Run16","n":"n>40","t":3.43,"c":27.8},{"run":"Run16","n":"n>40","t":3.48,"c":28},{"run":"Run16","n":"n>40","t":3.52,"c":27.8},{"run":"Run16","n":"n>40","t":3.57,"c":28},{"run":"Run16","n":"n>40","t":3.62,"c":27.8},{"run":"Run16","n":"n>40","t":3.66,"c":27.5},{"run":"Run16","n":"n>40","t":3.71,"c":27},{"run":"Run16","n":"n>40","t":3.75,"c":26.5},{"run":"Run16","n":"n>40","t":3.79,"c":26},{"run":"Run16","n":"n>40","t":3.82,"c":27.5},{"run":"Run16","n":"n>40","t":3.86,"c":29},{"run":"Run16","n":"n>40","t":3.90,"c":28.5},{"run":"Run16","n":"n>40","t":3.95,"c":28},{"run":"Run16","n":"n>40","t":3.99,"c":27.8},
{"run":"Run16","n":"n>50","t":1.72,"c":1},{"run":"Run16","n":"n>50","t":1.78,"c":1.2},{"run":"Run16","n":"n>50","t":1.81,"c":1.5},{"run":"Run16","n":"n>50","t":1.86,"c":2.2},{"run":"Run16","n":"n>50","t":1.91,"c":2.8},{"run":"Run16","n":"n>50","t":1.96,"c":3},{"run":"Run16","n":"n>50","t":2.00,"c":3.4},{"run":"Run16","n":"n>50","t":2.05,"c":3.5},{"run":"Run16","n":"n>50","t":2.09,"c":4},{"run":"Run16","n":"n>50","t":2.14,"c":4.5},{"run":"Run16","n":"n>50","t":2.19,"c":5.2},{"run":"Run16","n":"n>50","t":2.25,"c":7},{"run":"Run16","n":"n>50","t":2.30,"c":6.8},{"run":"Run16","n":"n>50","t":2.34,"c":7},{"run":"Run16","n":"n>50","t":2.38,"c":6.4},{"run":"Run16","n":"n>50","t":2.41,"c":8.4},{"run":"Run16","n":"n>50","t":2.46,"c":9},{"run":"Run16","n":"n>50","t":2.50,"c":9.5},{"run":"Run16","n":"n>50","t":2.55,"c":9.2},{"run":"Run16","n":"n>50","t":2.59,"c":9.5},{"run":"Run16","n":"n>50","t":2.64,"c":11},{"run":"Run16","n":"n>50","t":2.69,"c":12.6},{"run":"Run16","n":"n>50","t":2.74,"c":12.2},{"run":"Run16","n":"n>50","t":2.78,"c":12.6},{"run":"Run16","n":"n>50","t":2.83,"c":14},{"run":"Run16","n":"n>50","t":2.87,"c":15},{"run":"Run16","n":"n>50","t":2.92,"c":15.8},{"run":"Run16","n":"n>50","t":2.97,"c":16.8},{"run":"Run16","n":"n>50","t":3.01,"c":17.5},{"run":"Run16","n":"n>50","t":3.06,"c":18.6},{"run":"Run16","n":"n>50","t":3.10,"c":19.5},{"run":"Run16","n":"n>50","t":3.15,"c":19.8},{"run":"Run16","n":"n>50","t":3.20,"c":20.5},{"run":"Run16","n":"n>50","t":3.25,"c":21.2},{"run":"Run16","n":"n>50","t":3.29,"c":22},{"run":"Run16","n":"n>50","t":3.34,"c":23},{"run":"Run16","n":"n>50","t":3.38,"c":24},{"run":"Run16","n":"n>50","t":3.40,"c":24.8},{"run":"Run16","n":"n>50","t":3.44,"c":24.5},{"run":"Run16","n":"n>50","t":3.49,"c":24},{"run":"Run16","n":"n>50","t":3.54,"c":24.5},{"run":"Run16","n":"n>50","t":3.58,"c":24.8},{"run":"Run16","n":"n>50","t":3.63,"c":24.5},{"run":"Run16","n":"n>50","t":3.68,"c":24},{"run":"Run16","n":"n>50","t":3.72,"c":23.5},{"run":"Run16","n":"n>50","t":3.77,"c":23},{"run":"Run16","n":"n>50","t":3.82,"c":23.5},{"run":"Run16","n":"n>50","t":3.86,"c":24},{"run":"Run16","n":"n>50","t":3.91,"c":24.5},{"run":"Run16","n":"n>50","t":3.96,"c":25.3},{"run":"Run16","n":"n>50","t":3.99,"c":23},

{"run":"Run17","n":"n>20","t":0.68,"c":1},{"run":"Run17","n":"n>20","t":0.72,"c":1.5},{"run":"Run17","n":"n>20","t":0.77,"c":2.2},{"run":"Run17","n":"n>20","t":0.81,"c":1.5},{"run":"Run17","n":"n>20","t":0.85,"c":1.8},{"run":"Run17","n":"n>20","t":0.89,"c":2.5},{"run":"Run17","n":"n>20","t":0.93,"c":4},{"run":"Run17","n":"n>20","t":0.96,"c":5.5},{"run":"Run17","n":"n>20","t":0.99,"c":7},{"run":"Run17","n":"n>20","t":1.01,"c":9},{"run":"Run17","n":"n>20","t":1.04,"c":8},{"run":"Run17","n":"n>20","t":1.07,"c":8.4},{"run":"Run17","n":"n>20","t":1.10,"c":10},{"run":"Run17","n":"n>20","t":1.13,"c":11.3},{"run":"Run17","n":"n>20","t":1.16,"c":10},{"run":"Run17","n":"n>20","t":1.19,"c":12.6},{"run":"Run17","n":"n>20","t":1.22,"c":11},{"run":"Run17","n":"n>20","t":1.23,"c":7.8},{"run":"Run17","n":"n>20","t":1.26,"c":12},{"run":"Run17","n":"n>20","t":1.29,"c":17.6},{"run":"Run17","n":"n>20","t":1.32,"c":23.7},{"run":"Run17","n":"n>20","t":1.35,"c":22},{"run":"Run17","n":"n>20","t":1.38,"c":22},{"run":"Run17","n":"n>20","t":1.41,"c":21},{"run":"Run17","n":"n>20","t":1.44,"c":23},{"run":"Run17","n":"n>20","t":1.47,"c":24},{"run":"Run17","n":"n>20","t":1.51,"c":26},{"run":"Run17","n":"n>20","t":1.53,"c":31},{"run":"Run17","n":"n>20","t":1.56,"c":30},{"run":"Run17","n":"n>20","t":1.58,"c":34},{"run":"Run17","n":"n>20","t":1.61,"c":29.6},{"run":"Run17","n":"n>20","t":1.63,"c":32},{"run":"Run17","n":"n>20","t":1.66,"c":34.7},{"run":"Run17","n":"n>20","t":1.69,"c":35},{"run":"Run17","n":"n>20","t":1.72,"c":37},{"run":"Run17","n":"n>20","t":1.76,"c":38.5},{"run":"Run17","n":"n>20","t":1.80,"c":41.3},{"run":"Run17","n":"n>20","t":1.82,"c":40},{"run":"Run17","n":"n>20","t":1.85,"c":39.5},{"run":"Run17","n":"n>20","t":1.88,"c":38},{"run":"Run17","n":"n>20","t":1.91,"c":38.5},{"run":"Run17","n":"n>20","t":1.94,"c":37},{"run":"Run17","n":"n>20","t":1.97,"c":38},{"run":"Run17","n":"n>20","t":2.00,"c":38.5},{"run":"Run17","n":"n>20","t":2.03,"c":39.5},{"run":"Run17","n":"n>20","t":2.06,"c":41},{"run":"Run17","n":"n>20","t":2.09,"c":42.5},{"run":"Run17","n":"n>20","t":2.13,"c":41.5},{"run":"Run17","n":"n>20","t":2.16,"c":40.6},{"run":"Run17","n":"n>20","t":2.19,"c":41.5},{"run":"Run17","n":"n>20","t":2.22,"c":43},{"run":"Run17","n":"n>20","t":2.25,"c":44.3},{"run":"Run17","n":"n>20","t":2.28,"c":43},{"run":"Run17","n":"n>20","t":2.31,"c":42.5},{"run":"Run17","n":"n>20","t":2.34,"c":45},{"run":"Run17","n":"n>20","t":2.37,"c":46.8},{"run":"Run17","n":"n>20","t":2.41,"c":49.4},{"run":"Run17","n":"n>20","t":2.44,"c":54},{"run":"Run17","n":"n>20","t":2.47,"c":52},{"run":"Run17","n":"n>20","t":2.50,"c":51.6},{"run":"Run17","n":"n>20","t":2.53,"c":52.5},{"run":"Run17","n":"n>20","t":2.56,"c":55},{"run":"Run17","n":"n>20","t":2.59,"c":51.5},{"run":"Run17","n":"n>20","t":2.62,"c":49.4},{"run":"Run17","n":"n>20","t":2.65,"c":51},{"run":"Run17","n":"n>20","t":2.69,"c":53},{"run":"Run17","n":"n>20","t":2.72,"c":51.5},{"run":"Run17","n":"n>20","t":2.75,"c":49.4},{"run":"Run17","n":"n>20","t":2.78,"c":51},{"run":"Run17","n":"n>20","t":2.81,"c":56.7},{"run":"Run17","n":"n>20","t":2.84,"c":54},{"run":"Run17","n":"n>20","t":2.86,"c":55},{"run":"Run17","n":"n>20","t":2.90,"c":55},
{"run":"Run17","n":"n>30","t":0.96,"c":1},{"run":"Run17","n":"n>30","t":0.99,"c":1.8},{"run":"Run17","n":"n>30","t":1.03,"c":2.5},{"run":"Run17","n":"n>30","t":1.06,"c":3},{"run":"Run17","n":"n>30","t":1.09,"c":3.6},{"run":"Run17","n":"n>30","t":1.12,"c":3.5},{"run":"Run17","n":"n>30","t":1.16,"c":4},{"run":"Run17","n":"n>30","t":1.19,"c":4.5},{"run":"Run17","n":"n>30","t":1.25,"c":5.4},{"run":"Run17","n":"n>30","t":1.29,"c":5},{"run":"Run17","n":"n>30","t":1.32,"c":5.4},{"run":"Run17","n":"n>30","t":1.35,"c":6.5},{"run":"Run17","n":"n>30","t":1.38,"c":7.8},{"run":"Run17","n":"n>30","t":1.43,"c":8.5},{"run":"Run17","n":"n>30","t":1.47,"c":9.6},{"run":"Run17","n":"n>30","t":1.50,"c":10.5},{"run":"Run17","n":"n>30","t":1.53,"c":11},{"run":"Run17","n":"n>30","t":1.57,"c":12},{"run":"Run17","n":"n>30","t":1.60,"c":14},{"run":"Run17","n":"n>30","t":1.64,"c":16.5},{"run":"Run17","n":"n>30","t":1.66,"c":18.8},{"run":"Run17","n":"n>30","t":1.69,"c":22},{"run":"Run17","n":"n>30","t":1.72,"c":25.5},{"run":"Run17","n":"n>30","t":1.75,"c":23},{"run":"Run17","n":"n>30","t":1.78,"c":26},{"run":"Run17","n":"n>30","t":1.81,"c":29},{"run":"Run17","n":"n>30","t":1.85,"c":30},{"run":"Run17","n":"n>30","t":1.88,"c":31},{"run":"Run17","n":"n>30","t":1.91,"c":30.5},{"run":"Run17","n":"n>30","t":1.94,"c":31},{"run":"Run17","n":"n>30","t":1.97,"c":30.5},{"run":"Run17","n":"n>30","t":2.00,"c":29},{"run":"Run17","n":"n>30","t":2.03,"c":30},{"run":"Run17","n":"n>30","t":2.06,"c":31},{"run":"Run17","n":"n>30","t":2.09,"c":32},{"run":"Run17","n":"n>30","t":2.13,"c":31.5},{"run":"Run17","n":"n>30","t":2.16,"c":31},{"run":"Run17","n":"n>30","t":2.19,"c":32},{"run":"Run17","n":"n>30","t":2.22,"c":33},{"run":"Run17","n":"n>30","t":2.25,"c":33.5},{"run":"Run17","n":"n>30","t":2.28,"c":34},{"run":"Run17","n":"n>30","t":2.31,"c":33},{"run":"Run17","n":"n>30","t":2.34,"c":33},{"run":"Run17","n":"n>30","t":2.37,"c":34},{"run":"Run17","n":"n>30","t":2.41,"c":35},{"run":"Run17","n":"n>30","t":2.44,"c":36.5},{"run":"Run17","n":"n>30","t":2.47,"c":37.5},{"run":"Run17","n":"n>30","t":2.51,"c":38.8},{"run":"Run17","n":"n>30","t":2.53,"c":37},{"run":"Run17","n":"n>30","t":2.56,"c":35.8},{"run":"Run17","n":"n>30","t":2.59,"c":36},{"run":"Run17","n":"n>30","t":2.62,"c":36.5},{"run":"Run17","n":"n>30","t":2.65,"c":37},{"run":"Run17","n":"n>30","t":2.69,"c":36.5},{"run":"Run17","n":"n>30","t":2.72,"c":37},{"run":"Run17","n":"n>30","t":2.75,"c":36.5},{"run":"Run17","n":"n>30","t":2.78,"c":37.5},{"run":"Run17","n":"n>30","t":2.82,"c":39.5},{"run":"Run17","n":"n>30","t":2.86,"c":36.5},{"run":"Run17","n":"n>30","t":2.90,"c":36.5},
{"run":"Run17","n":"n>40","t":1.14,"c":1.5},{"run":"Run17","n":"n>40","t":1.18,"c":2},{"run":"Run17","n":"n>40","t":1.22,"c":2},{"run":"Run17","n":"n>40","t":1.26,"c":2.5},{"run":"Run17","n":"n>40","t":1.30,"c":2.5},{"run":"Run17","n":"n>40","t":1.34,"c":2.2},{"run":"Run17","n":"n>40","t":1.38,"c":2.2},{"run":"Run17","n":"n>40","t":1.42,"c":3},{"run":"Run17","n":"n>40","t":1.47,"c":4.6},{"run":"Run17","n":"n>40","t":1.51,"c":4.5},{"run":"Run17","n":"n>40","t":1.57,"c":5.4},{"run":"Run17","n":"n>40","t":1.62,"c":5.5},{"run":"Run17","n":"n>40","t":1.66,"c":6.6},{"run":"Run17","n":"n>40","t":1.71,"c":8},{"run":"Run17","n":"n>40","t":1.75,"c":9},{"run":"Run17","n":"n>40","t":1.79,"c":14.5},{"run":"Run17","n":"n>40","t":1.81,"c":16.4},{"run":"Run17","n":"n>40","t":1.85,"c":17.5},{"run":"Run17","n":"n>40","t":1.88,"c":19.4},{"run":"Run17","n":"n>40","t":1.91,"c":20.5},{"run":"Run17","n":"n>40","t":1.94,"c":22},{"run":"Run17","n":"n>40","t":1.98,"c":22.5},{"run":"Run17","n":"n>40","t":2.00,"c":23},{"run":"Run17","n":"n>40","t":2.05,"c":24},{"run":"Run17","n":"n>40","t":2.09,"c":24.9},{"run":"Run17","n":"n>40","t":2.13,"c":25.5},{"run":"Run17","n":"n>40","t":2.19,"c":26},{"run":"Run17","n":"n>40","t":2.23,"c":26.5},{"run":"Run17","n":"n>40","t":2.28,"c":27.4},{"run":"Run17","n":"n>40","t":2.32,"c":28},{"run":"Run17","n":"n>40","t":2.35,"c":28.5},{"run":"Run17","n":"n>40","t":2.40,"c":28},{"run":"Run17","n":"n>40","t":2.44,"c":27.4},{"run":"Run17","n":"n>40","t":2.48,"c":28},{"run":"Run17","n":"n>40","t":2.51,"c":28.5},{"run":"Run17","n":"n>40","t":2.53,"c":26},{"run":"Run17","n":"n>40","t":2.56,"c":32.9},{"run":"Run17","n":"n>40","t":2.59,"c":32},{"run":"Run17","n":"n>40","t":2.63,"c":30.4},{"run":"Run17","n":"n>40","t":2.67,"c":30.5},{"run":"Run17","n":"n>40","t":2.72,"c":30.4},{"run":"Run17","n":"n>40","t":2.77,"c":31.5},{"run":"Run17","n":"n>40","t":2.81,"c":32.2},{"run":"Run17","n":"n>40","t":2.85,"c":31},{"run":"Run17","n":"n>40","t":2.90,"c":32.2},
{"run":"Run17","n":"n>50","t":1.38,"c":1.5},{"run":"Run17","n":"n>50","t":1.42,"c":2},{"run":"Run17","n":"n>50","t":1.47,"c":2.2},{"run":"Run17","n":"n>50","t":1.52,"c":3},{"run":"Run17","n":"n>50","t":1.57,"c":3.6},{"run":"Run17","n":"n>50","t":1.61,"c":4.5},{"run":"Run17","n":"n>50","t":1.66,"c":5.4},{"run":"Run17","n":"n>50","t":1.70,"c":6},{"run":"Run17","n":"n>50","t":1.75,"c":6.6},{"run":"Run17","n":"n>50","t":1.78,"c":7.5},{"run":"Run17","n":"n>50","t":1.81,"c":9},{"run":"Run17","n":"n>50","t":1.85,"c":10},{"run":"Run17","n":"n>50","t":1.88,"c":11.3},{"run":"Run17","n":"n>50","t":1.91,"c":12.5},{"run":"Run17","n":"n>50","t":1.94,"c":14},{"run":"Run17","n":"n>50","t":1.97,"c":16},{"run":"Run17","n":"n>50","t":2.00,"c":17.6},{"run":"Run17","n":"n>50","t":2.05,"c":19},{"run":"Run17","n":"n>50","t":2.09,"c":20},{"run":"Run17","n":"n>50","t":2.14,"c":21},{"run":"Run17","n":"n>50","t":2.19,"c":22},{"run":"Run17","n":"n>50","t":2.25,"c":23.8},{"run":"Run17","n":"n>50","t":2.29,"c":23.5},{"run":"Run17","n":"n>50","t":2.34,"c":23},{"run":"Run17","n":"n>50","t":2.39,"c":24},{"run":"Run17","n":"n>50","t":2.44,"c":25.6},{"run":"Run17","n":"n>50","t":2.49,"c":25.5},{"run":"Run17","n":"n>50","t":2.53,"c":26},{"run":"Run17","n":"n>50","t":2.58,"c":26},{"run":"Run17","n":"n>50","t":2.63,"c":26},{"run":"Run17","n":"n>50","t":2.67,"c":26},{"run":"Run17","n":"n>50","t":2.72,"c":26.7},{"run":"Run17","n":"n>50","t":2.75,"c":27.5},{"run":"Run17","n":"n>50","t":2.78,"c":28.5},{"run":"Run17","n":"n>50","t":2.81,"c":27.5},{"run":"Run17","n":"n>50","t":2.84,"c":26},{"run":"Run17","n":"n>50","t":2.87,"c":26.5},{"run":"Run17","n":"n>50","t":2.90,"c":26}
]
},
"vconcat": [
{
"width": 863, "height": 250,
"layer": [
{"data": {"name": "series"}, "transform": [{"filter": "datum.run == 'Run14'"}],
 "mark": {"type": "line", "clip": true, "strokeJoin": "round"},
 "encoding": {
  "x": {"field": "t", "type": "quantitative", "scale": {"domain": [-0.005, 4.02], "nice": false, "zero": false}, "axis": {"orient": "bottom", "values": [0,1,2,3,4], "format": "d", "tickSize": -14, "labelPadding": 27, "title": null}},
  "y": {"field": "c", "type": "quantitative", "scale": {"domain": [0, 91.5], "nice": false}, "axis": {"orient": "left", "values": [20,40,60,80], "tickSize": -16, "labelPadding": 26, "title": null}},
  "color": {"field": "n", "type": "nominal", "scale": {"domain": ["n>50","n>40","n>30","n>20"], "range": ["#FFA51C","#20F08A","#0714D8","#FF52D4"]},
   "legend": {"orient": "none", "legendX": 78, "legendY": 77, "title": null, "symbolType": "M-2.5,0H2.5", "symbolSize": 400, "symbolStrokeWidth": 2, "labelFont": "Liberation Serif", "labelFontSize": 26, "labelColor": "black", "labelOffset": 20, "rowPadding": 4.5}},
  "strokeWidth": {"field": "n", "type": "nominal", "scale": {"domain": ["n>50","n>40","n>30","n>20"], "range": [2.9,2.9,3.8,2.9]}, "legend": null},
  "detail": {"field": "g"}
 }},
{"data": {"values": [{"label": "Run14 (T=350,S=8.7342)"}]},
 "mark": {"type": "text", "align": "left", "baseline": "middle", "font": "Liberation Serif", "fontSize": 24, "color": "black"},
 "encoding": {
  "x": {"datum": 0.21, "type": "quantitative", "axis": {"orient": "top", "values": [0,1,2,3,4], "tickSize": -14, "labels": false, "title": null}},
  "y": {"datum": 80, "type": "quantitative", "axis": {"orient": "right", "values": [20,40,60,80], "tickSize": -16, "labels": false, "title": null}},
  "text": {"field": "label"}
 }}
],
"resolve": {"axis": {"x": "independent", "y": "independent"}}
},
{
"width": 863, "height": 250,
"layer": [
{"data": {"name": "series"}, "transform": [{"filter": "datum.run == 'Run15'"}],
 "mark": {"type": "line", "clip": true, "strokeJoin": "round"},
 "encoding": {
  "x": {"field": "t", "type": "quantitative", "scale": {"domain": [-0.005, 4.02], "nice": false, "zero": false}, "axis": {"orient": "bottom", "values": [0,1,2,3,4], "format": "d", "tickSize": -14, "labelPadding": 27, "title": null}},
  "y": {"field": "c", "type": "quantitative", "scale": {"domain": [0, 91.5], "nice": false}, "axis": {"orient": "left", "values": [20,40,60,80], "tickSize": -16, "labelPadding": 26, "title": "Number of clusters", "titleFontSize": 53, "titleAngle": -90, "titleX": -133, "titleY": 278, "titleAlign": "center", "titleBaseline": "alphabetic"}},
  "color": {"field": "n", "type": "nominal", "scale": {"domain": ["n>50","n>40","n>30","n>20"], "range": ["#FFA51C","#20F08A","#0714D8","#FF52D4"]}, "legend": null},
  "strokeWidth": {"field": "n", "type": "nominal", "scale": {"domain": ["n>50","n>40","n>30","n>20"], "range": [2.9,2.9,3.8,2.9]}, "legend": null},
  "detail": {"field": "g"}
 }},
{"data": {"values": [{"label": "Run15 (T=350,S=9.8143)"}]},
 "mark": {"type": "text", "align": "left", "baseline": "middle", "font": "Liberation Serif", "fontSize": 24, "color": "black"},
 "encoding": {
  "x": {"datum": 0.21, "type": "quantitative", "axis": {"orient": "top", "values": [0,1,2,3,4], "tickSize": -14, "labels": false, "title": null}},
  "y": {"datum": 80, "type": "quantitative", "axis": {"orient": "right", "values": [20,40,60,80], "tickSize": -16, "labels": false, "title": null}},
  "text": {"field": "label"}
 }}
],
"resolve": {"axis": {"x": "independent", "y": "independent"}}
},
{
"width": 863, "height": 250,
"layer": [
{"data": {"name": "series"}, "transform": [{"filter": "datum.run == 'Run16'"}],
 "mark": {"type": "line", "clip": true, "strokeJoin": "round"},
 "encoding": {
  "x": {"field": "t", "type": "quantitative", "scale": {"domain": [-0.005, 4.02], "nice": false, "zero": false}, "axis": {"orient": "bottom", "values": [0,1,2,3,4], "format": "d", "tickSize": -14, "labelPadding": 27, "title": null}},
  "y": {"field": "c", "type": "quantitative", "scale": {"domain": [0, 91.5], "nice": false}, "axis": {"orient": "left", "values": [20,40,60,80], "tickSize": -16, "labelPadding": 26, "title": null}},
  "color": {"field": "n", "type": "nominal", "scale": {"domain": ["n>50","n>40","n>30","n>20"], "range": ["#FFA51C","#20F08A","#0714D8","#FF52D4"]}, "legend": null},
  "strokeWidth": {"field": "n", "type": "nominal", "scale": {"domain": ["n>50","n>40","n>30","n>20"], "range": [2.9,2.9,3.8,2.9]}, "legend": null},
  "detail": {"field": "g"}
 }},
{"data": {"values": [{"label": "Run16 (T=350,S=10.864)"}]},
 "mark": {"type": "text", "align": "left", "baseline": "middle", "font": "Liberation Serif", "fontSize": 24, "color": "black"},
 "encoding": {
  "x": {"datum": 0.21, "type": "quantitative", "axis": {"orient": "top", "values": [0,1,2,3,4], "tickSize": -14, "labels": false, "title": null}},
  "y": {"datum": 80, "type": "quantitative", "axis": {"orient": "right", "values": [20,40,60,80], "tickSize": -16, "labels": false, "title": null}},
  "text": {"field": "label"}
 }}
],
"resolve": {"axis": {"x": "independent", "y": "independent"}}
},
{
"width": 863, "height": 250,
"layer": [
{"data": {"name": "series"}, "transform": [{"filter": "datum.run == 'Run17'"}],
 "mark": {"type": "line", "clip": true, "strokeJoin": "round"},
 "encoding": {
  "x": {"field": "t", "type": "quantitative", "scale": {"domain": [-0.005, 4.02], "nice": false, "zero": false}, "axis": {"orient": "bottom", "values": [0,1,2,3,4], "format": "d", "tickSize": -14, "labelPadding": 27, "title": "Time (ns)", "titleFontSize": 54, "titleX": 440, "titleY": 139, "titleAlign": "center", "titleBaseline": "alphabetic"}},
  "y": {"field": "c", "type": "quantitative", "scale": {"domain": [0, 91.5], "nice": false}, "axis": {"orient": "left", "values": [20,40,60,80], "tickSize": -16, "labelPadding": 26, "title": null}},
  "color": {"field": "n", "type": "nominal", "scale": {"domain": ["n>50","n>40","n>30","n>20"], "range": ["#FFA51C","#20F08A","#0714D8","#FF52D4"]}, "legend": null},
  "strokeWidth": {"field": "n", "type": "nominal", "scale": {"domain": ["n>50","n>40","n>30","n>20"], "range": [2.9,2.9,3.8,2.9]}, "legend": null},
  "detail": {"field": "g"}
 }},
{"data": {"values": [{"label": "Run17 (T=350,S=12.181)"}]},
 "mark": {"type": "text", "align": "left", "baseline": "middle", "font": "Liberation Serif", "fontSize": 24, "color": "black"},
 "encoding": {
  "x": {"datum": 0.21, "type": "quantitative", "axis": {"orient": "top", "values": [0,1,2,3,4], "tickSize": -14, "labels": false, "title": null}},
  "y": {"datum": 80, "type": "quantitative", "axis": {"orient": "right", "values": [20,40,60,80], "tickSize": -16, "labels": false, "title": null}},
  "text": {"field": "label"}
 }}
],
"resolve": {"axis": {"x": "independent", "y": "independent"}}
}
],
"resolve": {"legend": {"color": "independent"}},
"config": {
 "background": "white",
 "font": "Liberation Serif",
 "view": {"stroke": "black", "strokeWidth": 2.5},
 "axis": {"domain": false, "grid": false, "tickColor": "black", "tickWidth": 2.5, "labelColor": "black", "labelFont": "Liberation Serif", "labelFontSize": 24, "labelFlush": false, "labelOverlap": false, "labelBound": false, "titleColor": "black", "titleFont": "Liberation Serif", "titleFontWeight": "normal"}
}
}
